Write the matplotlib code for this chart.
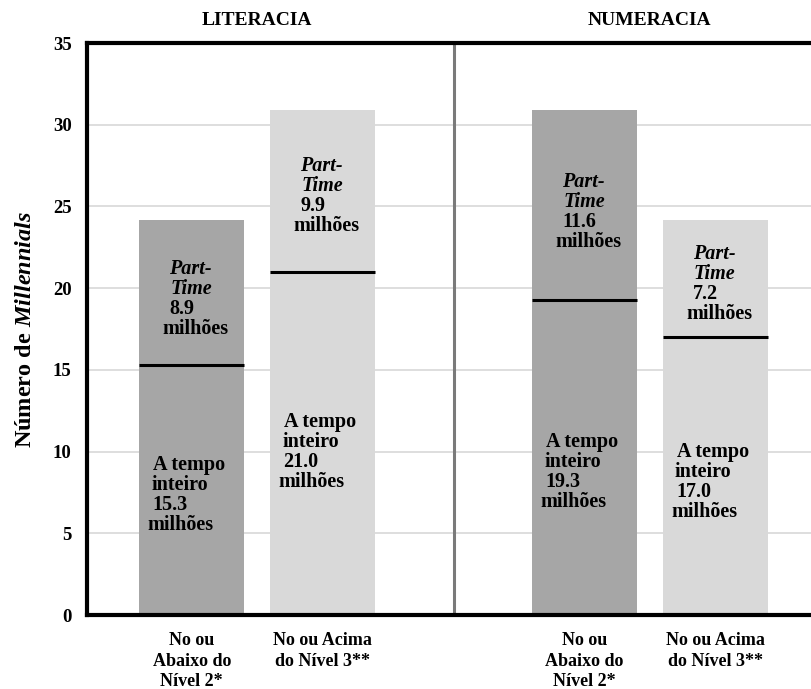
import matplotlib
matplotlib.use("Agg")
import matplotlib.pyplot as plt
import matplotlib.transforms as mtransforms

# Millennials by skill level, split into full-time and part-time (millions)
panels = ["LITERACIA", "NUMERACIA"]
categories = ["No ou\nAbaixo do\nNível 2*", "No ou Acima\ndo Nível 3**",
              "No ou\nAbaixo do\nNível 2*", "No ou Acima\ndo Nível 3**"]
full_time = [15.3, 21.0, 19.3, 17.0]
part_time = [8.9, 9.9, 11.6, 7.2]

positions = [0, 1, 3, 4]
colors = ["#a6a6a6", "#d9d9d9", "#a6a6a6", "#d9d9d9"]
bar_width = 0.8

# where each text block starts (top line, in data units)
part_label_y = [21.2, 27.5, 26.5, 22.1]
full_label_y = [9.2, 11.8, 10.6, 10.0]

plt.rcParams["font.family"] = ["Liberation Serif", "DejaVu Serif"]
plt.rcParams["mathtext.fontset"] = "custom"
plt.rcParams["mathtext.rm"] = "Liberation Serif:bold"
plt.rcParams["mathtext.it"] = "Liberation Serif:italic:bold"

fig = plt.figure(figsize=(8.11, 6.89), dpi=100)
ax = fig.add_axes([87 / 811, 74 / 689, 733 / 811, 572 / 689])

ax.set_xlim(-0.8, 4.8)
ax.set_ylim(0, 35)

# grid behind the bars
ax.set_yticks(range(0, 36, 5))
ax.yaxis.grid(True, color="#d4d4d4", linewidth=1.1)
ax.set_axisbelow(True)

ax.bar(positions, full_time, width=bar_width, color=colors, zorder=2)
ax.bar(positions, part_time, bottom=full_time, width=bar_width, color=colors, zorder=2)
ax.hlines(full_time, [p - bar_width / 2 for p in positions],
          [p + bar_width / 2 for p in positions], color="black", linewidth=2.2, zorder=3)

# divider between the two panels
ax.axvline(2, color="#7a7a7a", linewidth=2.2, zorder=1)

# labels inside bars, one line at a time
px = 1 / 130.75          # one pixel in x data units
step = 20 / 16.34        # line step in y data units
for i, p in enumerate(positions):
    left = p - bar_width / 2
    part_lines = [("Part-", "italic", 30), ("Time", "italic", 31),
                  (f"{part_time[i]:.1f}", "normal", 30), ("milhões", "normal", 23)]
    for k, (txt, style, dx) in enumerate(part_lines):
        ax.text(left + dx * px, part_label_y[i] - k * step, txt, ha="left", va="center",
                fontsize=14.5, fontweight="bold", fontstyle=style, zorder=4)
    full_lines = [("A tempo", 14), ("inteiro", 12), (f"{full_time[i]:.1f}", 13), ("milhões", 8)]
    for k, (txt, dx) in enumerate(full_lines):
        ax.text(left + dx * px, full_label_y[i] - k * step, txt, ha="left", va="center",
                fontsize=14.5, fontweight="bold", zorder=4)

# panel titles
trans = mtransforms.blended_transform_factory(ax.transData, ax.transAxes)
for name, x in zip(panels, [0.5, 3.5]):
    ax.text(x, 1.04, name, transform=trans, ha="center", va="center",
            fontsize=14, fontweight="bold")

ax.set_xticks(positions)
ax.set_xticklabels(categories, fontsize=13, fontweight="bold", linespacing=1.3, va="top")
ax.tick_params(axis="x", length=0, pad=12)
ax.tick_params(axis="y", length=0, pad=11, labelsize=13.5)
for lbl in ax.get_yticklabels():
    lbl.set_fontweight("bold")

ax.set_ylabel(r"Número de $\mathit{Millennials}$", fontsize=17.5, fontweight="bold", labelpad=12)

for side in ["left", "top", "bottom"]:
    ax.spines[side].set_linewidth(3)
    ax.spines[side].set_color("black")
ax.spines["right"].set_visible(False)

fig.savefig("out.png", dpi=100)
